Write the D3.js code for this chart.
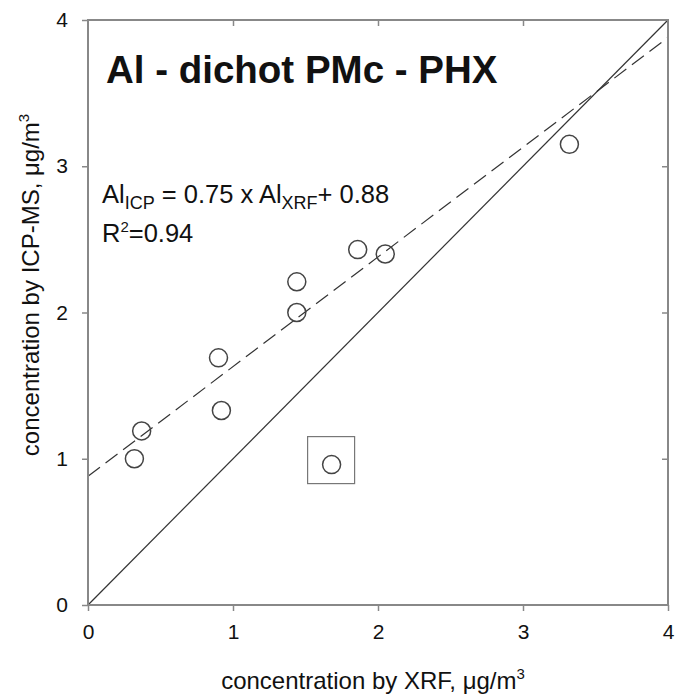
<!DOCTYPE html>
<html>
<head>
<meta charset="utf-8">
<script src="https://cdn.jsdelivr.net/npm/d3@7"></script>
<style>
	body { margin: 0; background: #fff; }
	text { font-family: "Liberation Sans", Arial, sans-serif; fill: #111; }
</style>
</head>
<body>
<svg id="chart"></svg>
<script>
// measured points, XRF vs ICP-MS (ug/m3)
const xrf = [0.32, 0.37, 0.90, 0.92, 1.44, 1.44, 1.86, 2.05, 3.32];
const icp = [1.00, 1.19, 1.69, 1.33, 2.21, 2.00, 2.43, 2.40, 3.15];
// boxed outlier
const outlierX = [1.68];
const outlierY = [0.96];
// regression
const slope = 0.75;
const intercept = 0.88;
const ticks = [0, 1, 2, 3, 4];

const W = 675, H = 694;
const m = {left: 88, top: 20, right: 7, bottom: 89};
const pw = W - m.left - m.right, ph = H - m.top - m.bottom;

let svg = d3.select("#chart").attr("width", W).attr("height", H);
let g = svg.append("g").attr("transform", `translate(${m.left},${m.top})`);

let x = d3.scaleLinear().domain([0, 4]).range([0, pw]);
let y = d3.scaleLinear().domain([0, 4]).range([ph, 0]);

// 1:1 line
g.append("line")
	.attr("x1", x(0)).attr("y1", y(0)).attr("x2", x(4)).attr("y2", y(4))
	.attr("stroke", "#333").attr("stroke-width", 1.2);

// fit line
g.append("line")
	.attr("x1", x(0)).attr("y1", y(intercept))
	.attr("x2", x(4)).attr("y2", y(slope * 4 + intercept))
	.attr("stroke", "#333").attr("stroke-width", 1.2)
	.attr("stroke-dasharray", "15,7");

// axes
function styleAxis(sel) {
	sel.select(".domain").remove();
	sel.selectAll("line").attr("stroke", "#888").attr("stroke-width", 1.5);
	sel.selectAll("text").attr("font-size", 21).attr("fill", "#111")
		.attr("font-family", "'Liberation Sans', Arial, sans-serif");
}
g.append("g").attr("transform", `translate(0,${ph})`)
	.call(d3.axisBottom(x).tickValues(ticks).tickSize(6).tickPadding(13).tickFormat(d3.format("d")))
	.call(styleAxis);
g.append("g")
	.call(d3.axisLeft(y).tickValues(ticks).tickSize(6).tickPadding(14).tickFormat(d3.format("d")))
	.call(styleAxis);
g.append("g")
	.call(d3.axisTop(x).tickValues(ticks.slice(1, 4)).tickSize(-6).tickFormat(""))
	.call(styleAxis);
g.append("g").attr("transform", `translate(${pw},0)`)
	.call(d3.axisRight(y).tickValues(ticks.slice(1, 4)).tickSize(-6).tickFormat(""))
	.call(styleAxis);

g.append("rect").attr("width", pw).attr("height", ph)
	.attr("fill", "none").attr("stroke", "#888").attr("stroke-width", 2);

// points
g.selectAll("circle.pt").data(xrf).enter().append("circle")
	.attr("class", "pt")
	.attr("cx", d => x(d)).attr("cy", (d, i) => y(icp[i])).attr("r", 9)
	.attr("fill", "none").attr("stroke", "#444").attr("stroke-width", 1.5);

g.selectAll("circle.out").data(outlierX).enter().append("circle")
	.attr("class", "out")
	.attr("cx", d => x(d)).attr("cy", (d, i) => y(outlierY[i])).attr("r", 9)
	.attr("fill", "none").attr("stroke", "#444").attr("stroke-width", 1.5);

g.selectAll("rect.box").data(outlierX).enter().append("rect")
	.attr("class", "box")
	.attr("x", d => x(d) - 24).attr("y", (d, i) => y(outlierY[i]) - 28)
	.attr("width", 47).attr("height", 47)
	.attr("fill", "none").attr("stroke", "#777").attr("stroke-width", 1.2);

// title
svg.append("text").attr("x", 106).attr("y", 83)
	.attr("font-size", 38.5).attr("font-weight", "bold")
	.text("Al - dichot PMc - PHX");

// equation
let eq = svg.append("text").attr("x", 102).attr("y", 203).attr("font-size", 25.5);
eq.append("tspan").text("Al");
eq.append("tspan").attr("font-size", 18).attr("dy", 6).text("ICP");
eq.append("tspan").attr("dy", -6).text(" = 0.75 x Al");
eq.append("tspan").attr("font-size", 18).attr("dy", 6).text("XRF");
eq.append("tspan").attr("dy", -6).text("+ 0.88");

let r2 = svg.append("text").attr("x", 102).attr("y", 242).attr("font-size", 25.5);
r2.append("tspan").text("R");
r2.append("tspan").attr("font-size", 15).attr("dy", -10).text("2");
r2.append("tspan").attr("dy", 10).text("=0.94");

// axis titles
let xt = svg.append("text").attr("x", 373).attr("y", 689)
	.attr("text-anchor", "middle").attr("font-size", 24);
xt.append("tspan").text("concentration by XRF, \u03bcg/m");
xt.append("tspan").attr("font-size", 15).attr("dy", -10).text("3");

let yt = svg.append("text").attr("transform", `translate(39,${285}) rotate(-90)`)
	.attr("text-anchor", "middle").attr("font-size", 24);
yt.append("tspan").text("concentration by ICP-MS, \u03bcg/m");
yt.append("tspan").attr("font-size", 15).attr("dy", -10).text("3");
</script>
</body>
</html>
